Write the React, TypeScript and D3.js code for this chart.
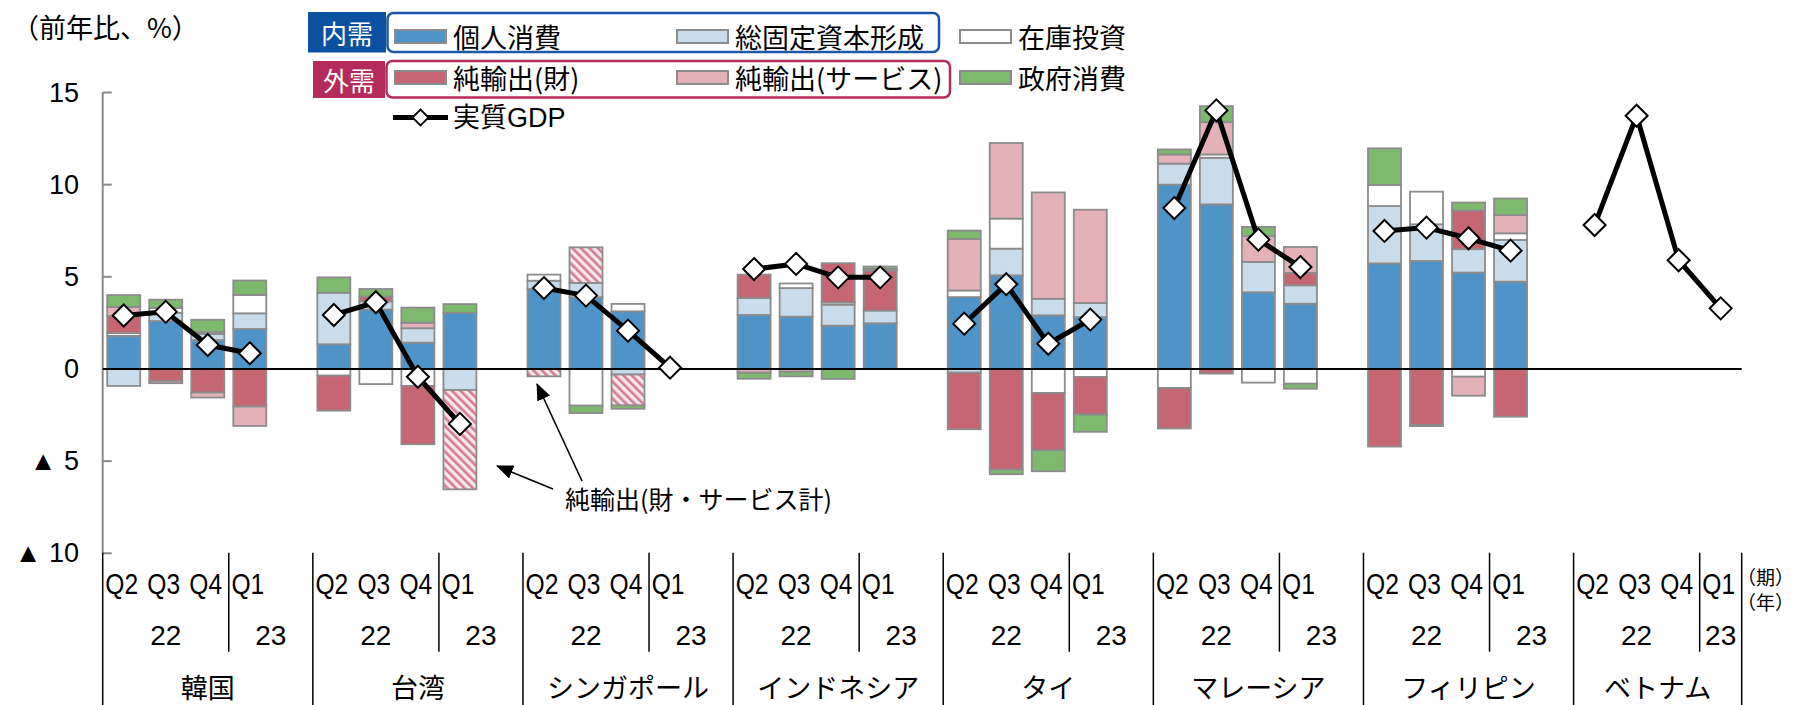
import React from "react";
import * as d3 from "d3";

// ---- data -------------------------------------------------------------
const countries = ["韓国", "台湾", "シンガポール", "インドネシア", "タイ", "マレーシア", "フィリピン", "ベトナム"];
const quarterLabels = ["Q2", "Q3", "Q4", "Q1"];
const yearLabels = ["22", "23"];
const yTicks = [15, 10, 5, 0, -5, -10];

// contributions to real GDP growth (%pt), per country: Q2-22, Q3-22, Q4-22, Q1-23
const privateConsumption = [
  [1.8, 2.6, 1.57, 2.17],
  [1.34, 3.22, 1.43, 3.05],
  [4.34, 3.89, 3.13, null],
  [2.93, 2.84, 2.35, 2.48],
  [3.9, 5.08, 2.91, 2.82],
  [10.0, 8.93, 4.16, 3.54],
  [5.73, 5.86, 5.23, 4.74],
  [null, null, null, null],
];
const fixedInvestment = [
  [-0.92, 0.45, 0.33, 0.85],
  [2.8, 0.45, 0.78, -1.14],
  [0.45, 0.78, -0.3, null],
  [0.92, 1.55, 1.14, 0.69],
  [-0.2, 1.45, 0.9, 0.76],
  [1.14, 2.53, 1.65, 1.0],
  [3.11, 1.99, 1.27, 2.26],
  [null, null, null, null],
];
const inventories = [
  [0.15, 0.26, 0.1, 1.0],
  [-0.36, -0.82, -0.92, 0],
  [0.33, -1.99, 0.4, null],
  [0, 0.25, 0.12, 0],
  [0.36, 1.63, -1.3, -0.43],
  [-1.03, 0.18, -0.74, -0.8],
  [1.14, 1.77, -0.42, 0.36],
  [null, null, null, null],
];
const netExportsGoods = [
  [0.92, -0.65, -1.28, -2.04],
  [-1.9, 0.26, -3.16, 0],
  [0, 0, 0, null],
  [1.27, 0, 2.13, 2.17],
  [-3.07, -5.46, -3.11, -2.04],
  [-2.2, -0.25, 0, 0.67],
  [-4.21, -3.04, 2.1, -2.59],
  [null, null, null, null],
];
const netExportsServices = [
  [0.49, -0.12, -0.27, -1.05],
  [0, 0, 0.3, 0],
  [0, 0, 0, null],
  [-0.2, -0.15, 0, 0.09],
  [2.8, 4.1, 5.77, 5.06],
  [0.5, 1.75, 1.4, 1.41],
  [0, -0.06, -1.03, 0.99],
  [null, null, null, null],
];
// goods and services combined (only where no split is available)
const netExportsTotal = [
  [0, 0, 0, 0],
  [0, 0, 0, -5.39],
  [-0.4, 1.93, -1.68, null],
  [0, 0, 0, 0],
  [0, 0, 0, 0],
  [0, 0, 0, 0],
  [0, 0, 0, 0],
  [null, null, null, null],
];
const governmentConsumption = [
  [0.65, 0.45, 0.67, 0.78],
  [0.83, 0.41, 0.82, 0.47],
  [0, -0.4, -0.18, null],
  [-0.33, -0.25, -0.54, 0.13],
  [0.45, -0.25, -1.14, -0.94],
  [0.27, 0.87, 0.5, -0.27],
  [1.99, 0, 0.43, 0.9],
  [null, null, null, null],
];
const realGDP = [
  [2.9, 3.1, 1.3, 0.85],
  [2.93, 3.62, -0.42, -2.98],
  [4.39, 3.98, 2.08, 0.07],
  [5.42, 5.7, 4.97, 4.97],
  [2.46, 4.6, 1.37, 2.68],
  [8.73, 14.03, 7.02, 5.53],
  [7.49, 7.67, 7.09, 6.42],
  [7.81, 13.74, 5.9, 3.29],
];

const seriesKeys = ["cons", "inv", "stock", "goods", "services", "total", "gov"];
const seriesData: Record<string, (number | null)[][]> = {
  cons: privateConsumption,
  inv: fixedInvestment,
  stock: inventories,
  goods: netExportsGoods,
  services: netExportsServices,
  total: netExportsTotal,
  gov: governmentConsumption,
};

// ---- styling ----------------------------------------------------------
const FILL: Record<string, string> = {
  cons: "#4f94c8",
  inv: "#c9dcec",
  stock: "#ffffff",
  goods: "#c66673",
  services: "#e4b1b9",
  total: "url(#hatch)",
  gov: "#7dba6d",
};
const BAR_STROKE = "#8c8c8c";
const JP = "'Noto Sans CJK JP', sans-serif";
const LAT = "'Liberation Sans', Arial, 'Noto Sans CJK JP', sans-serif";

const W = 1796;
const H = 705;
const X0 = 102.7;
const X1 = 1741.7;

// category slots: four quarters per country plus a spacer (none after the last)
const slots: string[] = [];
countries.forEach((c, ci) => {
  quarterLabels.forEach((_, qi) => slots.push(`${ci}-${qi}`));
  if (ci < countries.length - 1) slots.push(`${ci}-gap`);
});

const x = d3.scaleBand<string>().domain(slots).range([X0, X1]).paddingInner(0.215).paddingOuter(0.1075);
const y = d3.scaleLinear().domain([-10, 15]).range([553.3, 92.5]);
const step = x.step();
const slotLeft = (key: string) => (x(key) as number) - (step * 0.215) / 2;

type Row = { slot: string } & Record<string, number>;
const rows: Row[] = [];
countries.forEach((_, ci) => {
  quarterLabels.forEach((_, qi) => {
    const r: any = { slot: `${ci}-${qi}` };
    seriesKeys.forEach((k) => (r[k] = seriesData[k][ci][qi] ?? 0));
    rows.push(r);
  });
});

const stacked = d3
  .stack<Row>()
  .keys(seriesKeys)
  .value((d, k) => d[k] as number)
  .offset(d3.stackOffsetDiverging)(rows);

const diamond = (r: number) => `M0,${-r}L${r},0L0,${r}L${-r},0Z`;

const gdpLine = d3
  .line<[number, number]>()
  .x((d) => d[0])
  .y((d) => d[1]);

export default function App() {
  const groupStart = (ci: number) => slotLeft(`${ci}-0`);
  const groupEnd = (ci: number) => (ci < countries.length - 1 ? slotLeft(`${ci + 1}-0`) : X1);
  const yearSplit = (ci: number) => slotLeft(`${ci}-3`);

  return (
    <svg
      width={W}
      height={H}
      viewBox={`0 0 ${W} ${H}`}
      style={{ position: "absolute", left: 0, top: 0, background: "#fff" }}
    >
      <defs>
        <pattern id="hatch" patternUnits="userSpaceOnUse" width={6} height={6} patternTransform="rotate(-45)">
          <rect width={6} height={6} fill="#f8e6ea" />
          <rect width={2.6} height={6} fill="#d07c95" />
        </pattern>
        <marker
          id="arrowHead"
          markerUnits="userSpaceOnUse"
          markerWidth={17}
          markerHeight={14}
          refX={16}
          refY={7}
          orient="auto"
        >
          <path d="M0,0L17,7L0,14Z" fill="#000" />
        </marker>
      </defs>

      {/* unit label */}
      <text x={12} y={26} fontFamily={JP} fontSize={27} dominantBaseline="central" fill="#000">
        （前年比、%）
      </text>

      {/* y axis */}
      <line x1={X0} x2={X0} y1={y(15)} y2={y(-10)} stroke="#8a8a8a" strokeWidth={2} />
      {yTicks.map((t) => (
        <g key={t}>
          <line x1={X0} x2={X0 + 9} y1={y(t)} y2={y(t)} stroke="#8a8a8a" strokeWidth={2} />
          <text
            x={79}
            y={y(t)}
            textAnchor="end"
            dominantBaseline="central"
            fontFamily={LAT}
            fontSize={27}
            fill="#000"
          >
            {t < 0 ? `▲ ${Math.abs(t)}` : t}
          </text>
        </g>
      ))}

      {/* stacked contribution bars */}
      {stacked.map((layer) => (
        <g key={layer.key}>
          {layer.map((seg, i) => {
            const [a, b] = seg;
            if (Math.abs(b - a) < 1e-9) return null;
            const top = y(Math.max(a, b));
            const h = Math.abs(y(a) - y(b));
            return (
              <rect
                key={i}
                x={x(rows[i].slot)}
                y={top}
                width={x.bandwidth()}
                height={h}
                fill={FILL[layer.key]}
                stroke={BAR_STROKE}
                strokeWidth={1.8}
              />
            );
          })}
        </g>
      ))}

      {/* zero line */}
      <line x1={X0} x2={X1} y1={y(0)} y2={y(0)} stroke="#000" strokeWidth={2} />

      {/* real GDP */}
      {realGDP.map((vals, ci) => {
        const pts: [number, number][] = vals.map((v, qi) => [
          (x(`${ci}-${qi}`) as number) + x.bandwidth() / 2,
          y(v),
        ]);
        return (
          <g key={ci}>
            <path d={gdpLine(pts) as string} fill="none" stroke="#000" strokeWidth={5} strokeLinejoin="round" />
            {pts.map((p, qi) => (
              <path
                key={qi}
                d={diamond(11)}
                transform={`translate(${p[0]},${p[1]})`}
                fill="#fff"
                stroke="#000"
                strokeWidth={2}
              />
            ))}
          </g>
        );
      })}

      {/* category axis: quarters, years, countries */}
      {countries.map((c, ci) => {
        const gs = groupStart(ci);
        const ge = groupEnd(ci);
        const ys = yearSplit(ci);
        return (
          <g key={c}>
            <line x1={gs} x2={gs} y1={552.7} y2={H} stroke="#000" strokeWidth={1.5} />
            <line x1={ys} x2={ys} y1={552.7} y2={651.7} stroke="#000" strokeWidth={1.5} />
            {quarterLabels.map((q, qi) => {
              const cx = (x(`${ci}-${qi}`) as number) + x.bandwidth() / 2 - 2;
              return (
                <text
                  key={q}
                  transform={`translate(${cx},584) scale(0.82,1)`}
                  textAnchor="middle"
                  dominantBaseline="central"
                  fontFamily={LAT}
                  fontSize={30}
                  fill="#000"
                >
                  {q}
                </text>
              );
            })}
            <text
              x={(gs + ys) / 2}
              y={635}
              textAnchor="middle"
              dominantBaseline="central"
              fontFamily={LAT}
              fontSize={28}
              fill="#000"
            >
              {yearLabels[0]}
            </text>
            <text
              x={(ys + ge) / 2}
              y={635}
              textAnchor="middle"
              dominantBaseline="central"
              fontFamily={LAT}
              fontSize={28}
              fill="#000"
            >
              {yearLabels[1]}
            </text>
            <text
              x={(gs + ge) / 2}
              y={686}
              textAnchor="middle"
              dominantBaseline="central"
              fontFamily={JP}
              fontSize={27}
              fill="#000"
            >
              {c}
            </text>
          </g>
        );
      })}
      <line x1={X1} x2={X1} y1={552.7} y2={H} stroke="#000" strokeWidth={1.5} />
      <text x={1737} y={576} dominantBaseline="central" fontFamily={JP} fontSize={19}>
        （期）
      </text>
      <text x={1737} y={601} dominantBaseline="central" fontFamily={JP} fontSize={19}>
        （年）
      </text>

      {/* annotation for combined net exports */}
      <line x1={553} y1={489} x2={497} y2={466} stroke="#000" strokeWidth={1.6} markerEnd="url(#arrowHead)" />
      <line x1={582} y1={481} x2={537} y2={384} stroke="#000" strokeWidth={1.6} markerEnd="url(#arrowHead)" />
      <text x={565} y={498} dominantBaseline="central" fontFamily={JP} fontSize={25} fill="#000">
        純輸出(財・サービス計)
      </text>

      {/* legend */}
      <rect x={308} y={12} width={78} height={40.5} fill="#0c51a0" />
      <text x={347} y={32.5} textAnchor="middle" dominantBaseline="central" fontFamily={JP} fontSize={26} fill="#fff">
        内需
      </text>
      <rect x={313} y={61} width={72} height={37} fill="#b42b5b" />
      <text x={349} y={79.5} textAnchor="middle" dominantBaseline="central" fontFamily={JP} fontSize={26} fill="#fff">
        外需
      </text>
      <rect x={387.5} y={13} width={551.5} height={39} rx={6} fill="none" stroke="#1d58a6" strokeWidth={2.5} />
      <rect x={386.5} y={61} width={563.5} height={36.5} rx={6} fill="none" stroke="#b42b5b" strokeWidth={2.5} />
      {[
        { key: "cons", label: "個人消費", lx: 395, ly: 36.5 },
        { key: "inv", label: "総固定資本形成", lx: 677, ly: 36.5 },
        { key: "stock", label: "在庫投資", lx: 960, ly: 36.5 },
        { key: "goods", label: "純輸出(財)", lx: 395, ly: 77.5 },
        { key: "services", label: "純輸出(サービス)", lx: 677, ly: 77.5 },
        { key: "gov", label: "政府消費", lx: 960, ly: 77.5 },
      ].map((it) => (
        <g key={it.key}>
          <rect
            x={it.lx}
            y={it.ly - 6.5}
            width={51}
            height={13}
            fill={FILL[it.key]}
            stroke={BAR_STROKE}
            strokeWidth={2}
          />
          <text x={it.lx + 58} y={it.ly} dominantBaseline="central" fontFamily={JP} fontSize={27} fill="#000">
            {it.label}
          </text>
        </g>
      ))}
      <line x1={393} x2={448} y1={117.5} y2={117.5} stroke="#000" strokeWidth={5} />
      <path d={diamond(8)} transform="translate(420.5,117.5)" fill="#fff" stroke="#000" strokeWidth={1.8} />
      <text x={453} y={117.5} dominantBaseline="central" fontFamily={LAT} fontSize={27} fill="#000">
        実質GDP
      </text>
    </svg>
  );
}
